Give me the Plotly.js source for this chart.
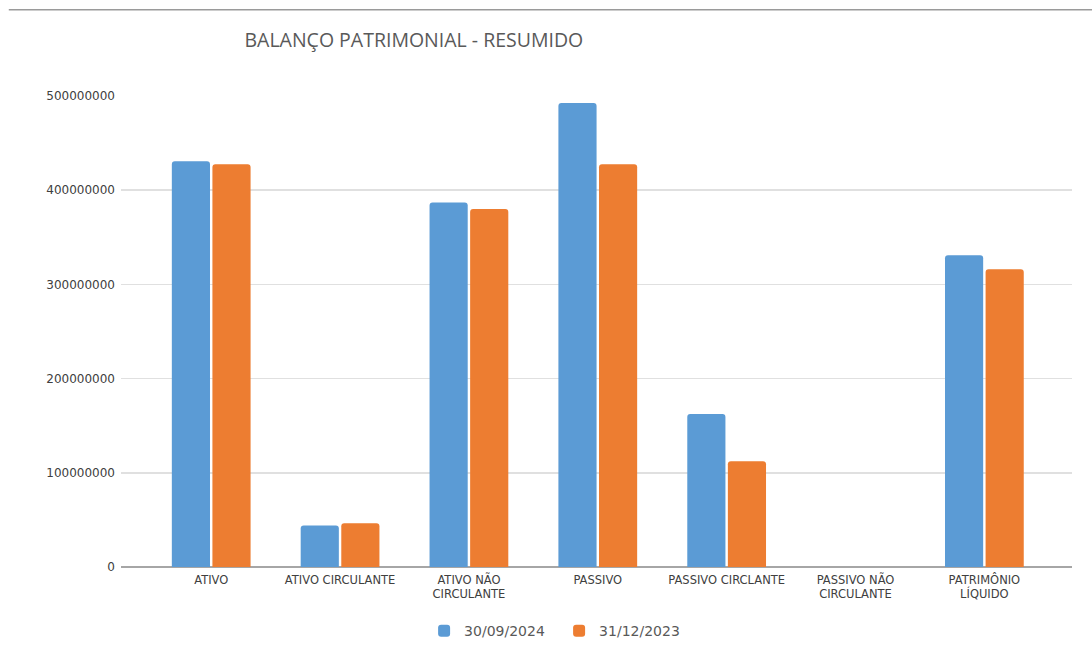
<!DOCTYPE html>
<html>
<head>
<meta charset="utf-8">
<script src="https://cdn.plot.ly/plotly-3.0.1.min.js"></script>
<style>
  html, body { margin: 0; padding: 0; background: #fff; }
  #chart { width: 1092px; height: 665px; }
</style>
</head>
<body>
<div id="chart"></div>
<script>
// Balanço patrimonial resumido (valores em R$)
const categories = [
  'ATIVO',
  'ATIVO CIRCULANTE',
  'ATIVO NÃO<br>CIRCULANTE',
  'PASSIVO',
  'PASSIVO CIRCLANTE',
  'PASSIVO NÃO<br>CIRCULANTE',
  'PATRIMÔNIO<br>LÍQUIDO'
];
const seriesNames = ['30/09/2024', '31/12/2023'];
const values2024 = [430700000, 44000000, 387000000, 492600000, 162400000, 0, 331000000];
const values2023 = [427500000, 46400000, 380000000, 427500000, 112200000, 0, 316000000];
const yTicks = [0, 100000000, 200000000, 300000000, 400000000, 500000000];

const colors = ['#5B9BD5', '#ED7D31'];

const traces = [values2024, values2023].map((vals, i) => ({
  type: 'bar',
  name: seriesNames[i],
  x: categories,
  y: vals,
  marker: {
    color: colors[i],
    cornerradius: 3,
    line: { width: 0 }
  },
  hoverinfo: 'x+y+name'
}));

const layout = {
  width: 1092,
  height: 665,
  paper_bgcolor: '#ffffff',
  plot_bgcolor: '#ffffff',
  margin: { l: 121, r: 20, t: 96, b: 98 },
  barmode: 'group',
  bargap: 0.37,
  bargroupgap: 0.06,
  title: {
    text: 'BALANÇO PATRIMONIAL - RESUMIDO',
    font: { family: 'Open Sans, sans-serif', size: 19.5, color: '#595959' },
    xref: 'container', x: 0.379, xanchor: 'center',
    yref: 'container', y: 0.939, yanchor: 'middle'
  },
  xaxis: {
    type: 'category',
    range: [-0.7, 6.68],
    showgrid: false,
    showline: false,
    ticks: '',
    ticklabelstandoff: 4,
    tickfont: { family: 'DejaVu Sans, sans-serif', size: 11.5, color: '#404040' },
    fixedrange: true
  },
  yaxis: {
    range: [0, 500000000],
    tickvals: yTicks,
    tickformat: 'd',
    showgrid: true,
    gridcolor: '#e0e0e0',
    gridwidth: 1.5,
    zeroline: true,
    zerolinecolor: '#a6a6a6',
    zerolinewidth: 2,
    showline: false,
    ticks: '',
    ticklabelstandoff: 5,
    tickfont: { family: 'DejaVu Sans, sans-serif', size: 12, color: '#404040' },
    fixedrange: true
  },
  legend: {
    orientation: 'h',
    xref: 'container', x: 0.512, xanchor: 'center',
    yref: 'container', y: 0.051, yanchor: 'middle',
    font: { family: 'DejaVu Sans, sans-serif', size: 14, color: '#595959' },
    entrywidth: 90,
    entrywidthmode: 'pixels',
    itemclick: false,
    itemdoubleclick: false
  },
  shapes: [{
    type: 'line',
    xref: 'paper', yref: 'paper',
    x0: -0.118, x1: 1.03,
    y0: 1.183, y1: 1.183,
    line: { color: '#9a9a9a', width: 1.5 }
  }],
  showlegend: true
};

Plotly.newPlot('chart', traces, layout, { displayModeBar: false, staticPlot: true });
</script>
</body>
</html>
